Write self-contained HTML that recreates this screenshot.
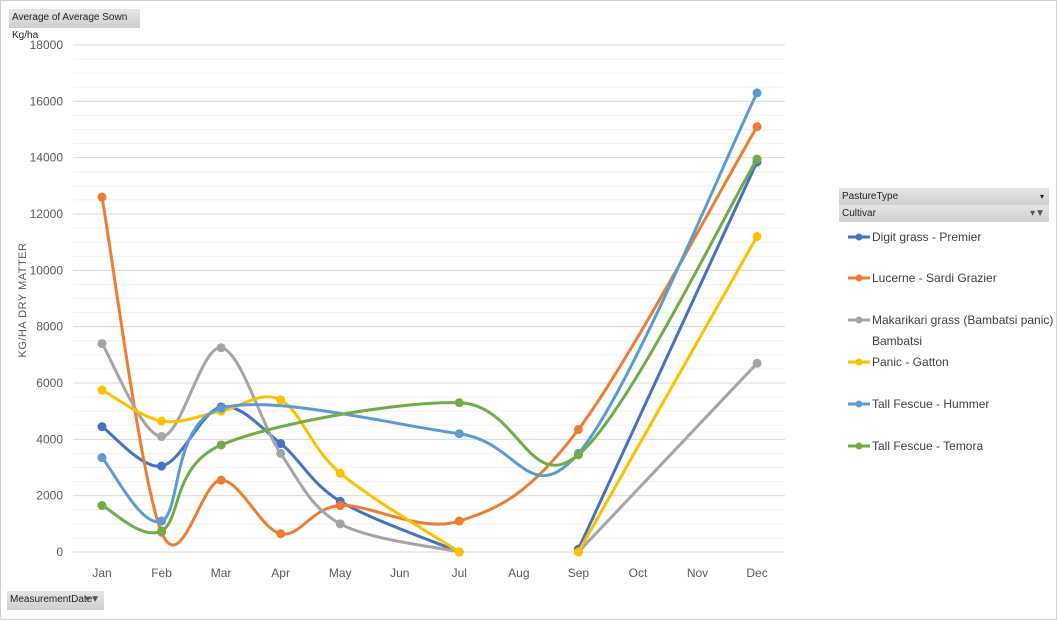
<!DOCTYPE html>
<html><head><meta charset="utf-8"><style>
body{margin:0;background:#fff;font-family:"Liberation Sans",sans-serif}
#wrap{position:relative;width:1057px;height:620px;overflow:hidden}
.btn{position:absolute;background:linear-gradient(#e6e6e6,#cfcfcf);font-size:10px;color:#222;line-height:18px;padding-left:3px;box-sizing:border-box;font-family:"Liberation Sans Narrow","Liberation Sans",sans-serif}
</style></head><body>
<div id="wrap">
<div style="position:absolute;left:0;top:0;width:1055px;height:618px;border:1px solid #d0d0d0"></div>
<div class="btn" style="left:9px;top:9px;width:131px;height:19px">Average of Average Sown Kg/ha</div>
<div class="btn" style="left:839px;top:188px;width:210px;height:17px;line-height:17px">PastureType<span style="position:absolute;right:5px;font-size:8px">▾</span></div>
<div class="btn" style="left:839px;top:205px;width:210px;height:17px;line-height:17px">Cultivar<span style="position:absolute;right:4px;color:#555">▾▼</span></div>
<div class="btn" style="left:7px;top:591px;width:97px;height:19px">MeasurementDate<span style="position:absolute;right:4px;color:#555">▾▼</span></div>
<svg id="chart" width="1057" height="620" style="position:absolute;left:0;top:0"></svg>
</div>
<script>
const months=["Jan","Feb","Mar","Apr","May","Jun","Jul","Aug","Sep","Oct","Nov","Dec"];
const yTicks=[0,2000,4000,6000,8000,10000,12000,14000,16000,18000];
const seriesNames=["Digit grass - Premier","Lucerne - Sardi Grazier","Makarikari grass (Bambatsi panic) - Bambatsi","Panic - Gatton","Tall Fescue - Hummer","Tall Fescue - Temora"];
const digit=[4450,3050,5150,3850,1800,null,0,null,100,null,null,13850];
const lucerne=[12600,700,2550,650,1650,null,1100,null,4350,null,null,15100];
const bambatsi=[7400,4100,7250,3500,1000,null,0,null,0,null,null,6700];
const gatton=[5750,4650,5000,5400,2800,null,0,null,0,null,null,11200];
const hummer=[3350,1100,5100,null,null,null,4200,null,3500,null,null,16300];
const temora=[1650,750,3800,null,null,null,5300,null,3450,null,null,13950];
const seriesValues=[digit,lucerne,bambatsi,gatton,hummer,temora];
const breakAfterJul=[true,false,true,true,false,false];
const colors=["#4472c4","#ed7d31","#a5a5a5","#ffc000","#5b9bd5","#70ad47"];
const NS="http://www.w3.org/2000/svg";
const svg=document.getElementById('chart');
const X=i=>102+i*59.55;
const Y=v=>552-v*507/18000;
function mk(t,a){const e=document.createElementNS(NS,t);for(const k in a)e.setAttribute(k,a[k]);svg.appendChild(e);return e;}
for(let v=0;v<=18000;v+=500){
 const g=mk('line',{x1:73,x2:785,y1:Y(v),y2:Y(v),stroke:v%2000==0?'#d9d9d9':'#f0f0f0','stroke-width':1});
 
 
}
yTicks.forEach(v=>{const t=mk('text',{x:63,y:Y(v)+4,'text-anchor':'end','font-size':12,fill:'#595959'});t.textContent=v;
 
 });
months.forEach((m,i)=>{const t=mk('text',{x:X(i),y:577,'text-anchor':'middle','font-size':12,fill:'#595959'});t.textContent=m;
 
 });
const yt=mk('text',{x:0,y:0,'text-anchor':'middle','font-size':11,fill:'#595959',transform:'translate(26,300) rotate(-90)','letter-spacing':'0.5'});
yt.textContent='KG/HA DRY MATTER';


function pathFor(pts){
 if(pts.length<2)return '';
 let d=`M${pts[0][0]},${pts[0][1]}`;
 for(let i=0;i<pts.length-1;i++){
  const p0=pts[Math.max(0,i-1)],p1=pts[i],p2=pts[i+1],p3=pts[Math.min(pts.length-1,i+2)];
  const c1=[p1[0]+(p2[0]-p0[0])/6,p1[1]+(p2[1]-p0[1])/6];
  const c2=[p2[0]-(p3[0]-p1[0])/6,p2[1]-(p3[1]-p1[1])/6];
  d+=` C${c1[0]},${c1[1]} ${c2[0]},${c2[1]} ${p2[0]},${p2[1]}`;
 }
 return d;
}
seriesValues.forEach((vals,s)=>{
 const segs=[[]];
 vals.forEach((v,i)=>{
  if(v===null)return;
  if(breakAfterJul[s]&&i>6&&segs.length==1&&segs[0].length)segs.push([]);
  segs[segs.length-1].push([X(i),Y(v)]);
 });
 segs.forEach(seg=>{
  const p=mk('path',{d:pathFor(seg),fill:'none',stroke:colors[s],'stroke-width':3,'stroke-linecap':'round'});
  
  
 });
 vals.forEach((v,i)=>{if(v===null)return;
  const c=mk('circle',{cx:X(i),cy:Y(v),r:4.5,fill:colors[s]});
  
  
 });
});
const ly=[237,278,320,362,404,446];
seriesNames.forEach((n,s)=>{
 const l=mk('line',{x1:848,x2:870,y1:ly[s],y2:ly[s],stroke:colors[s],'stroke-width':3});
 
 
 const c=mk('circle',{cx:859,cy:ly[s],r:3.5,fill:colors[s]});
 
 
 const t=mk('text',{x:872,y:ly[s]+4,'font-size':12,fill:'#404040'});
 
 
 if(s==2){t.textContent='Makarikari grass (Bambatsi panic) -';
  const t2=mk('text',{x:872,y:ly[s]+25,'font-size':12,fill:'#404040'});t2.textContent='Bambatsi';
  
  }
 else t.textContent=n;
});
</script>
</body></html>
